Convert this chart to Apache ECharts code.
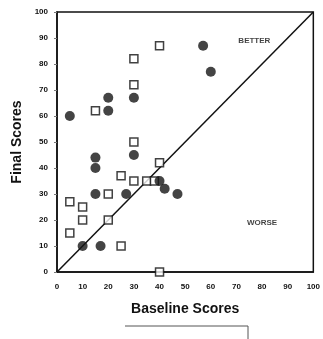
<!DOCTYPE html>
<html><head><meta charset="utf-8">
<script src="https://cdn.jsdelivr.net/npm/echarts@6/dist/echarts.min.js"></script>
<style>html,body{margin:0;padding:0;background:#fff}#c{width:323px;height:339px}</style>
</head><body><div id="c"></div>
<script>
const tickLabels = ['0','10','20','30','40','50','60','70','80','90','100'];
const filledX = [5, 20, 20, 30, 57, 60, 15, 15, 30, 15, 27, 40, 42, 47, 10, 17];
const filledY = [60, 67, 62, 67, 87, 77, 44, 40, 45, 30, 30, 35, 32, 30, 10, 10];
const openX = [15, 30, 30, 40, 30, 25, 30, 35, 38, 40, 20, 5, 10, 10, 20, 5, 25, 40];
const openY = [62, 82, 72, 87, 50, 37, 35, 35, 35, 42, 30, 27, 25, 20, 20, 15, 10, 0];
const diagX = [0, 100];
const diagY = [0, 100];
const regionLabels = [['BETTER', 77, 89], ['WORSE', 80, 19]];

const zip = (a, b) => a.map((v, i) => [v, b[i]]);
const font = '"Liberation Sans", Arial, sans-serif';
const chart = echarts.init(document.getElementById('c'));
chart.setOption({
  animation: false,
  backgroundColor: '#fff',
  grid: { left: 57, right: 9, top: 12, bottom: 67, show: true, borderColor: '#111', borderWidth: 1.5, backgroundColor: 'transparent' },
  xAxis: {
    type: 'value', min: 0, max: 100, interval: 10,
    name: 'Baseline Scores', nameLocation: 'middle', nameGap: 30,
    nameTextStyle: { fontFamily: font, fontSize: 14, fontWeight: 'bold', color: '#111' },
    axisLine: { lineStyle: { color: '#111', width: 1.5 } },
    axisTick: { show: false },
    splitLine: { show: false },
    axisLabel: { fontFamily: font, fontSize: 8, fontWeight: 'bold', color: '#111', margin: 11,
      formatter: v => tickLabels[Math.round(v / 10)] }
  },
  yAxis: {
    type: 'value', min: 0, max: 100, interval: 10,
    name: 'Final Scores', nameLocation: 'middle', nameGap: 32,
    nameTextStyle: { fontFamily: font, fontSize: 14, fontWeight: 'bold', color: '#111' },
    axisLine: { lineStyle: { color: '#111', width: 1.5 } },
    axisTick: { show: true, length: 3, lineStyle: { color: '#777' } },
    splitLine: { show: false },
    axisLabel: { fontFamily: font, fontSize: 8, fontWeight: 'bold', color: '#111', margin: 9,
      formatter: v => tickLabels[Math.round(v / 10)] }
  },
  series: [
    { type: 'line', data: zip(diagX, diagY), symbol: 'none', lineStyle: { color: '#111', width: 1.5 }, z: 1 },
    { type: 'scatter', data: zip(openX, openY), symbol: 'rect', symbolSize: 8,
      itemStyle: { color: '#fff', borderColor: '#111', borderWidth: 1.5 }, z: 3 },
    { type: 'scatter', data: zip(filledX, filledY), symbol: 'circle', symbolSize: 10,
      itemStyle: { color: '#151515' }, z: 4 },
    { type: 'scatter', data: regionLabels.map(r => ({ value: [r[1], r[2]], name: r[0] })), symbolSize: 0,
      label: { show: true, position: 'inside', formatter: p => p.name, fontFamily: font, fontSize: 8, fontWeight: 'bold', color: '#111' }, z: 5 }
  ],
  graphic: [
    { type: 'polyline', shape: { points: [[125, 326], [248, 326], [248, 339]] }, style: { stroke: '#555', lineWidth: 1, fill: null } }
  ]
});
</script></body></html>
